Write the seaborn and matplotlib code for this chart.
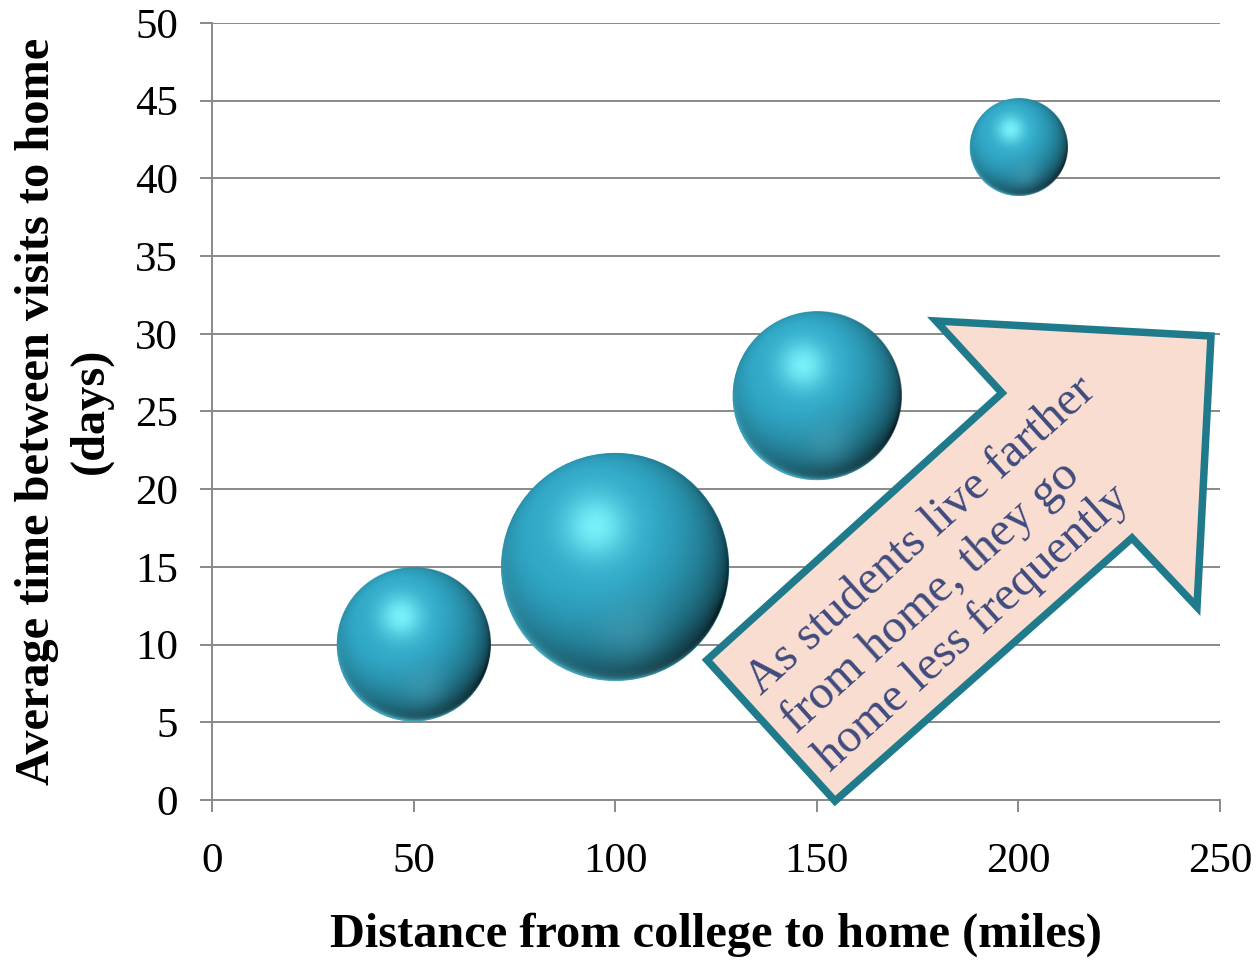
import numpy as np
import pandas as pd
import seaborn as sns
import matplotlib.pyplot as plt
from matplotlib.patches import Polygon

# Survey summary: distance from college to home vs. days between visits
distance = [50, 100, 150, 200]
days_between = [10, 15, 26, 42]
bubble_size = [5, 11, 6, 2]

x_ticks = [0, 50, 100, 150, 200, 250]
y_ticks = [0, 5, 10, 15, 20, 25, 30, 35, 40, 45, 50]

x_label = "Distance from college to home (miles)"
y_label = "Average time between visits to home\n(days)"
note = "As students live farther\nfrom home, they go\nhome less frequently"

df = pd.DataFrame({"distance": distance, "days": days_between, "size": bubble_size})

W, H, DPI = 1259, 963, 100
sns.set_theme(style="white")
plt.rcParams["font.family"] = ["Liberation Serif", "DejaVu Serif"]
plt.rcParams["text.color"] = "black"

GRID = "#898989"
BALL = "#2B9DBA"

fig = plt.figure(figsize=(W / DPI, H / DPI), dpi=DPI)
ax = fig.add_axes([212 / W, 163 / H, 1008 / W, 777 / H])
ax.set_xlim(0, 250)
ax.set_ylim(0, 50)

# bubble area proportional to size; the largest bubble is 228 px across
max_diam_pt = 228 * 72 / DPI
sns.scatterplot(data=df, x="distance", y="days", size="size",
                sizes=(0, max_diam_pt ** 2), size_norm=(0, max(bubble_size)),
                color=BALL, linewidth=0, legend=False, ax=ax, zorder=3)


def sphere_rgba(n=401):
    lin = np.linspace(-1, 1, n)
    X, Y = np.meshgrid(lin, -lin)
    R = np.sqrt(X ** 2 + Y ** 2)
    Z = np.sqrt(np.clip(1 - R ** 2, 0, 1))
    L = np.array([-0.28, 0.40, 0.87])
    L = L / np.linalg.norm(L)
    t = X * L[0] + Y * L[1] + Z * L[2]
    dark = np.array([0.03, 0.11, 0.13])
    mid = np.array([0.18, 0.64, 0.76])
    f = np.clip(0.22 + 0.95 * t, 0, 1) ** 0.7
    col = dark + (mid - dark) * f[..., None]
    # soft reflected light low on the sphere
    g2 = np.exp(-(((X - 0.12) ** 2) + ((Y + 0.55) ** 2)) / (2 * 0.2 ** 2))
    col = col + (np.array([0.32, 0.64, 0.72]) - col) * (0.4 * g2)[..., None]
    # bright rim along the lower-left edge
    rim = np.exp(-(1 - np.clip(R, 0, 1)) / 0.04) * np.clip(-Y * 0.9 - X * 0.4, 0, 1)
    col = col + (np.array([0.36, 0.80, 0.90]) - col) * (0.9 * rim)[..., None]
    # specular highlight
    d2 = (X + 0.17) ** 2 + (Y - 0.36) ** 2
    g1 = np.exp(-d2 / (2 * 0.2 ** 2))
    g1w = np.exp(-d2 / (2 * 0.45 ** 2))
    col = col + (np.array([0.22, 0.72, 0.84]) - col) * (0.5 * g1w)[..., None]
    col = col + (np.array([0.50, 0.97, 1.0]) - col) * (0.9 * g1)[..., None]
    alpha = np.clip((1 - R) * (n / 2) / 1.5 + 0.5, 0, 1)
    return np.dstack([np.clip(col, 0, 1), alpha])


fig.canvas.draw()
coll = ax.collections[0]
offsets = coll.get_offsets()
areas = coll.get_sizes()
inv = ax.transData.inverted()
tex = sphere_rgba()
for (xv, yv), s in zip(offsets, areas):
    cx, cy = ax.transData.transform((xv, yv))
    r = np.sqrt(s) / 2 * DPI / 72
    x0, y0 = inv.transform((cx - r, cy - r))
    x1, y1 = inv.transform((cx + r, cy + r))
    ax.imshow(tex, extent=(x0, x1, y0, y1), origin="upper", aspect="auto",
              interpolation="bilinear", zorder=4)
ax.set_xlim(0, 250)
ax.set_ylim(0, 50)

ax.set_xticks(x_ticks)
ax.set_yticks(y_ticks)
ax.yaxis.grid(True, color=GRID, linewidth=1.4)
ax.xaxis.grid(False)
ax.set_axisbelow(True)
for side in ("top", "right"):
    ax.spines[side].set_visible(False)
for side in ("left", "bottom"):
    ax.spines[side].set_color(GRID)
    ax.spines[side].set_linewidth(1.4)
ax.tick_params(axis="both", which="major", bottom=True, left=True, direction="out",
               length=8.6, width=1.4, color=GRID, labelsize=31, labelcolor="black")
ax.tick_params(axis="x", pad=22)
ax.tick_params(axis="y", pad=16)
ax.set_xlabel("")
ax.set_ylabel("")

fig.text(716 / W, 1 - 935 / H, x_label, ha="center", va="center",
         fontsize=34.8, fontweight="bold", color="black")
fig.text(64 / W, 1 - 411 / H, y_label, ha="center", va="center", rotation=90,
         fontsize=34.8, fontweight="bold", multialignment="center", linespacing=1.3,
         color="black")

# call-out arrow
arrow_px = [(707, 660), (1002, 393), (936, 321), (1211, 336),
            (1197, 607), (1132, 538), (835, 801)]
arrow = Polygon([(x / W, 1 - y / H) for x, y in arrow_px], closed=True,
                transform=fig.transFigure, facecolor="#F9DDD0",
                edgecolor="#1F7A8B", linewidth=5.4, joinstyle="miter", zorder=5)
fig.add_artist(arrow)
fig.text(956 / W, 1 - 574 / H, note, ha="center", va="center", rotation=42,
         rotation_mode="anchor", multialignment="left", fontsize=35,
         color="#3F4A7E", linespacing=1.22, zorder=6)

fig.savefig("out.png", dpi=DPI)
